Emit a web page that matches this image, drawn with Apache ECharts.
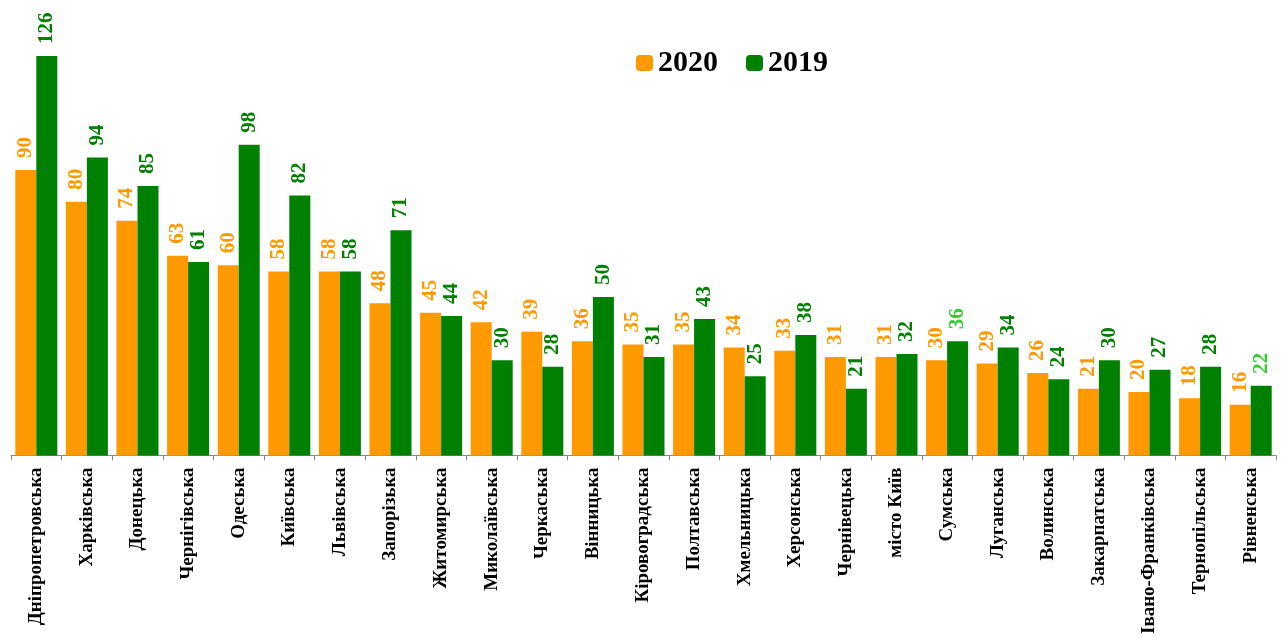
<!DOCTYPE html>
<html>
<head>
<meta charset="utf-8">
<title>2020 / 2019</title>
<script src="https://cdn.jsdelivr.net/npm/echarts@6/dist/echarts.min.js"></script>
<style>
    html, body { margin: 0; padding: 0; background: #fff; }
    #chart { width: 1285px; height: 637px; }
</style>
</head>
<body>
<div id="chart"></div>
<script>
var regions = ['Дніпропетровська', 'Харківська', 'Донецька', 'Чернігівська', 'Одеська', 'Київська',
    'Львівська', 'Запорізька', 'Житомирська', 'Миколаївська', 'Черкаська', 'Вінницька',
    'Кіровоградська', 'Полтавська', 'Хмельницька', 'Херсонська', 'Чернівецька', 'місто Київ',
    'Сумська', 'Луганська', 'Волинська', 'Закарпатська', 'Івано-Франківська', 'Тернопільська', 'Рівненська'];
var values2020 = [90, 80, 74, 63, 60, 58, 58, 48, 45, 42, 39, 36, 35, 35, 34, 33, 31, 31, 30, 29, 26, 21, 20, 18, 16];
var values2019 = [126, 94, 85, 61, 98, 82, 58, 71, 44, 30, 28, 50, 31, 43, 25, 38, 21, 32, 36, 34, 24, 30, 27, 28, 22];
var lightLabels2019 = ['Сумська', 'Рівненська']; // підписи світло-зеленим

var serif = '"Liberation Serif", "DejaVu Serif", serif';

var chart = echarts.init(document.getElementById('chart'));

var data2019 = values2019.map(function (v, i) {
    if (lightLabels2019.indexOf(regions[i]) >= 0) {
        return { value: v, label: { color: '#33cc33' } };
    }
    return v;
});

var valueLabel = {
    show: true,
    position: 'top',
    rotate: 90,
    align: 'left',
    verticalAlign: 'middle',
    distance: 12,
    fontFamily: serif,
    fontWeight: 'bold',
    fontSize: 21
};

var option = {
    animation: false,
    legend: {
        left: 631,
        top: 43,
        itemWidth: 17,
        itemHeight: 16,
        itemGap: 28,
        textStyle: { fontFamily: serif, fontWeight: 'bold', fontSize: 30, color: '#000' },
        data: ['2020', '2019']
    },
    grid: {
        left: 11,
        right: 9,
        top: 56,
        bottom: 180
    },
    xAxis: {
        type: 'category',
        data: regions,
        axisLine: { lineStyle: { color: '#888', width: 1 } },
        axisTick: { show: true, length: 5, lineStyle: { color: '#888' } },
        axisLabel: {
            rotate: 90,
            interval: 0,
            margin: 12,
            fontFamily: serif,
            fontWeight: 'bold',
            fontSize: 19,
            color: '#000'
        }
    },
    yAxis: {
        type: 'value',
        min: 0,
        max: 126,
        show: false,
        splitLine: { show: false }
    },
    series: [
        {
            name: '2020',
            type: 'bar',
            data: values2020,
            barGap: '0%',
            barCategoryGap: '17%',
            itemStyle: { color: '#ff9900' },
            label: Object.assign({}, valueLabel, { color: '#ff9900' })
        },
        {
            name: '2019',
            type: 'bar',
            data: data2019,
            itemStyle: { color: '#008000' },
            label: Object.assign({}, valueLabel, { color: '#008000' })
        }
    ]
};
chart.setOption(option);
</script>
</body>
</html>
